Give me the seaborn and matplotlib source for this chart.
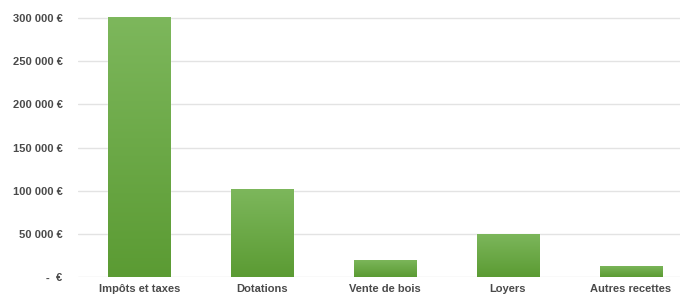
import numpy as np
import pandas as pd
import matplotlib
matplotlib.use("Agg")
import matplotlib.pyplot as plt
from matplotlib.colors import LinearSegmentedColormap
import seaborn as sns

# data
categories = ["Impôts et taxes", "Dotations", "Vente de bois", "Loyers", "Autres recettes"]
values = [301000, 102000, 20000, 50000, 13000]
yticks = [0, 50000, 100000, 150000, 200000, 250000, 300000]


def euro(v):
    if v == 0:
        return "-  €"
    return "{:,} €".format(int(v)).replace(",", " ")


def main():
    sns.set_style("white")
    plt.rcParams["font.family"] = ["Liberation Sans", "DejaVu Sans"]

    df = pd.DataFrame({"cat": categories, "val": values})

    fig = plt.figure(figsize=(6.8, 2.94), dpi=100)
    ax = fig.add_axes([78 / 680, 17 / 294, 1 - 78 / 680, 272 / 294])

    sns.barplot(data=df, x="cat", y="val", color="#6aa845", width=0.505,
                saturation=1, ax=ax, zorder=3)

    # vertical gradient on each bar, lighter on top
    cmap = LinearSegmentedColormap.from_list("g", ["#5b9b33", "#7db75c"])
    grad = np.linspace(0, 1, 256).reshape(-1, 1)
    for p in ax.patches:
        x0, y0 = p.get_x(), p.get_y()
        w, h = p.get_width(), p.get_height()
        im = ax.imshow(grad, cmap=cmap, origin="lower", aspect="auto",
                       extent=[x0, x0 + w, y0, y0 + h], zorder=4)
        im.set_clip_path(p)
    ax.set_xlim(-0.5, 4.4)
    ax.set_ylim(0, 300000 * 272 / 259)

    ax.set_yticks(yticks)
    ax.set_yticklabels([euro(v) for v in yticks])
    ax.yaxis.grid(True, color="#e3e3e3", linewidth=1.0, zorder=0)
    ax.set_axisbelow(True)
    for s in ax.spines.values():
        s.set_visible(False)

    ax.tick_params(axis="y", length=0, pad=11, labelsize=8, labelcolor="#4a4a4a")
    ax.tick_params(axis="x", length=0, pad=5, labelsize=8, labelcolor="#4a4a4a")
    for lbl in ax.get_yticklabels() + ax.get_xticklabels():
        lbl.set_fontweight("bold")
    ax.set_xlabel("")
    ax.set_ylabel("")

    fig.savefig("out.png", dpi=100)


if __name__ == "__main__":
    main()
